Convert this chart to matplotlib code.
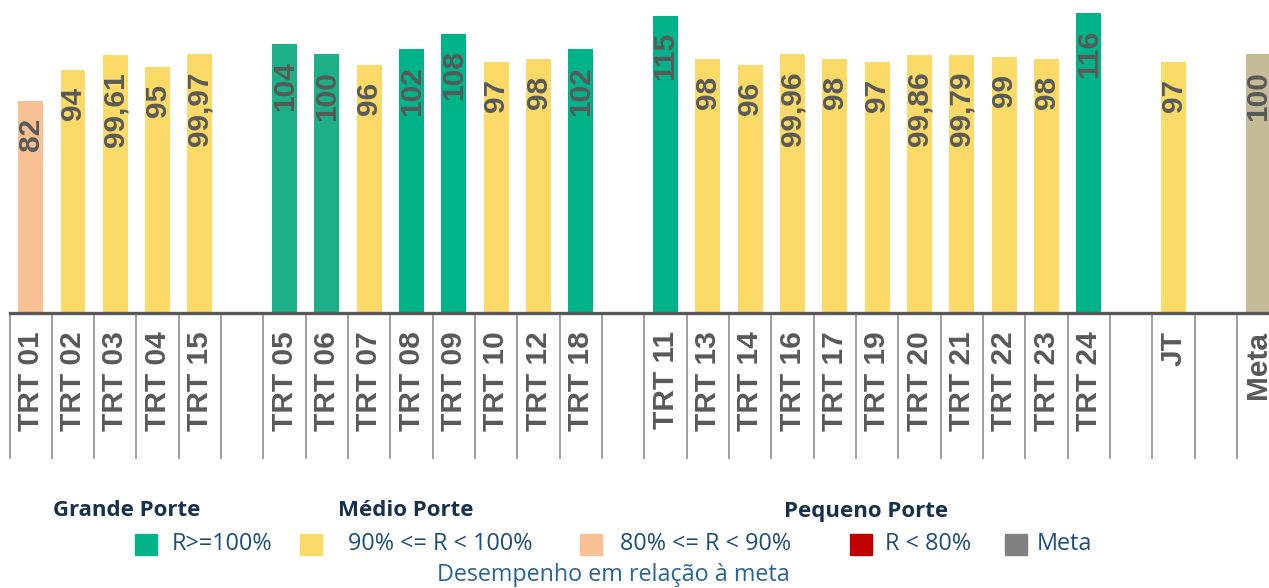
import matplotlib
matplotlib.use("Agg")
import matplotlib.pyplot as plt
from matplotlib.patches import Rectangle

# data
categories = ["TRT 01", "TRT 02", "TRT 03", "TRT 04", "TRT 15",
              "TRT 05", "TRT 06", "TRT 07", "TRT 08", "TRT 09", "TRT 10", "TRT 12", "TRT 18",
              "TRT 11", "TRT 13", "TRT 14", "TRT 16", "TRT 17", "TRT 19", "TRT 20", "TRT 21",
              "TRT 22", "TRT 23", "TRT 24",
              "JT", "Meta"]
values = [82, 94, 99.61, 95, 99.97,
          104, 100, 96, 102, 108, 97, 98, 102,
          115, 98, 96, 99.96, 98, 97, 99.86, 99.79, 99, 98, 116,
          97, 100]
group_sizes = [5, 8, 11, 1, 1]
group_titles = ["Grande Porte", "Médio Porte", "Pequeno Porte"]
legend_labels = ["R>=100%", "90% <= R < 100%", "80% <= R < 90%", "R < 80%", "Meta"]
footer = "Desempenho em relação à meta"

# styles
GREEN = "#00B388"
GREEN_SOFT = "#1DAF88"
YELLOW = "#FBDA67"
SALMON = "#F8C193"
RED = "#C00000"
META = "#C4BC97"
GRAY_TXT = "#595959"
soft_green = {"TRT 05", "TRT 06"}

W, H = 1269, 588
fig = plt.figure(figsize=(W / 100, H / 100), dpi=100)

slot = 42.33
base_y = 312.5
px_per_unit = 2.582
ax = fig.add_axes([9.5 / W, (H - base_y) / H, 30 * slot / W, base_y / H])

# slot positions with one empty slot between groups
positions = []
s = 0
for g in group_sizes:
    positions.extend(range(s, s + g))
    s += g + 1
n_slots = s - 1


def bar_color(name, v):
    if name == "Meta":
        return META
    if v >= 100:
        return GREEN_SOFT if name in soft_green else GREEN
    if v >= 90:
        return YELLOW
    if v >= 80:
        return SALMON
    return RED


colors = [bar_color(c, v) for c, v in zip(categories, values)]
ax.bar(positions, values, width=0.59, color=colors, zorder=2)

for x, v in zip(positions, values):
    txt = f"{v:g}".replace(".", ",")
    ax.annotate(txt, (x, v), xytext=(0, -12), textcoords="offset points",
                rotation=90, ha="center", va="top", fontsize=21.5,
                fontweight="bold", color=GRAY_TXT, family="Liberation Sans")

ax.set_xlim(-0.5, n_slots - 0.5)
ax.set_ylim(0, base_y / px_per_unit)
ax.set_xticks(positions)
ax.set_xticklabels(categories, rotation=90, fontsize=21.5, fontweight="bold",
                   color=GRAY_TXT, family="Liberation Sans")
ax.tick_params(axis="x", length=0, pad=13.5)
ax.set_yticks([])
for side in ["top", "left", "right"]:
    ax.spines[side].set_visible(False)
ax.spines["bottom"].set_color(GRAY_TXT)
ax.spines["bottom"].set_linewidth(2.4)

# separators of the category table
ax.vlines([k - 0.5 for k in range(n_slots + 1)], -146 / base_y, -2 / base_y,
          transform=ax.get_xaxis_transform(), color="#999999", lw=1.3, clip_on=False)

# legend block


def fx(px):
    return px / W


def fy(py):
    return 1 - py / H


NAVY = "#17304D"
BLUE = "#1F4E79"
for title, x in zip(group_titles, [53, 338, 784]):
    fig.text(fx(x), fy(511), title, fontsize=16, fontweight="bold", color=NAVY,
             ha="left", va="center", family="Open Sans")

swatches = [GREEN, YELLOW, SALMON, RED, "#808080"]
sq_x = [135, 300, 580, 850, 1005]
txt_x = [172, 348, 620, 885, 1037]
for lab, c, sx, tx in zip(legend_labels, swatches, sq_x, txt_x):
    fig.add_artist(Rectangle((fx(sx), fy(555)), 22 / W, 21 / H, color=c,
                             transform=fig.transFigure))
    fig.text(fx(tx), fy(544), lab, fontsize=16.8, color=BLUE, ha="left", va="center",
             family="Open Sans")

fig.text(fx(613), fy(575), footer, fontsize=16.8, color="#2A6496", ha="center",
         va="center", family="Open Sans")

fig.savefig("out.png", dpi=100)
